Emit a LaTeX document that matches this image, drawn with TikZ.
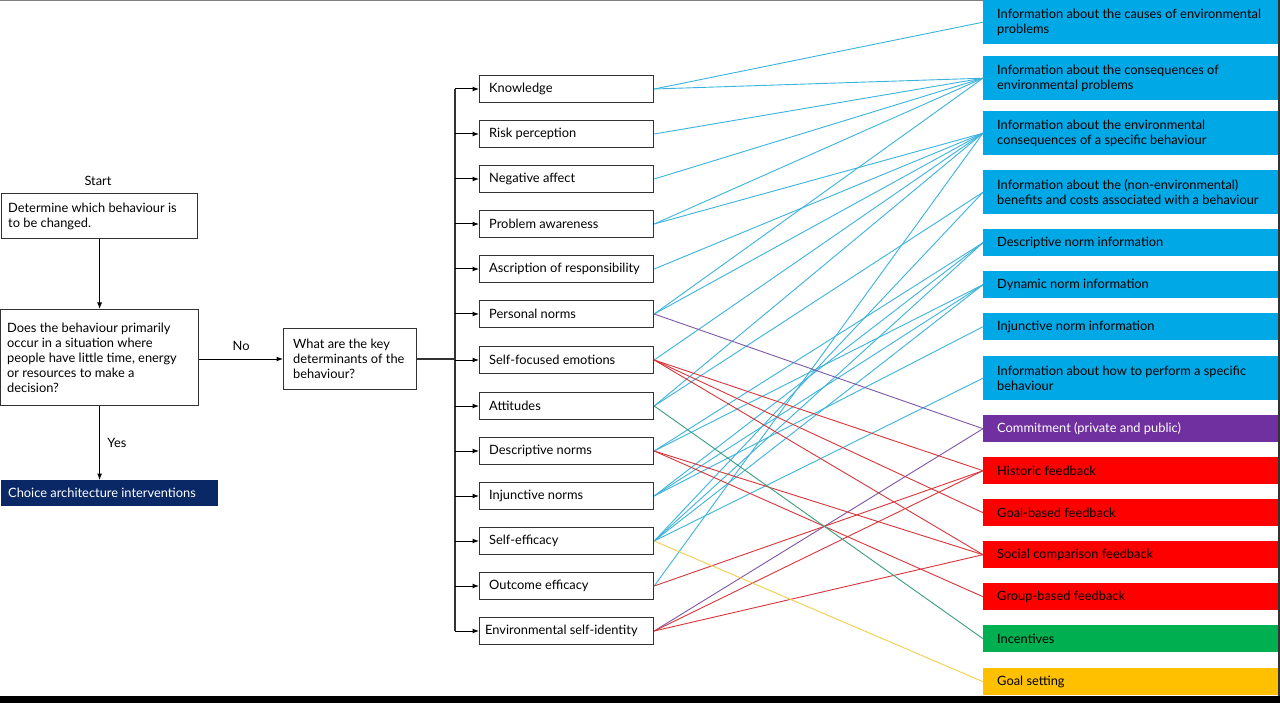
\documentclass[tikz,border=0pt]{standalone}
\usepackage{fontspec}
\setmainfont{Lato}
\usetikzlibrary{arrows.meta}
\definecolor{infoblue}{HTML}{00A8E6}
\definecolor{compurple}{HTML}{7030A0}
\definecolor{fbred}{HTML}{FF0000}
\definecolor{incgreen}{HTML}{00B050}
\definecolor{goalyellow}{HTML}{FFC000}
\definecolor{navybox}{HTML}{0A2866}
\definecolor{boxgray}{HTML}{333333}
\definecolor{lblue}{HTML}{3BB3DC}
\definecolor{lred}{HTML}{D8343A}
\definecolor{lpurple}{HTML}{7E57A8}
\definecolor{lgreen}{HTML}{3A9E7A}
\definecolor{lyellow}{HTML}{F2CF4A}
\begin{document}
\begin{tikzpicture}[x=1pt,y=-1pt,
  font=\fontsize{12.85}{15}\selectfont,
  flowbox/.style={draw=boxgray, line width=1.2pt, align=left, inner ysep=0pt},
  mid/.style={draw=boxgray, line width=1.2pt, minimum width=174pt, inner sep=0pt,
    minimum height=27pt, anchor=west},
  rbox/.style={anchor=north west, minimum width=295pt, inner sep=0pt, minimum height=27pt},
  lbl/.style={anchor=west, align=left, inner sep=0pt},
  arr/.style={draw=black, line width=1pt, -{Latex[length=6.5pt,width=5pt]}},
  cb/.style={draw=lblue, line width=0.9pt},
  cr/.style={draw=lred, line width=0.9pt},
  cp/.style={draw=lpurple, line width=0.9pt},
  cg/.style={draw=lgreen, line width=0.9pt},
  cy/.style={draw=lyellow, line width=0.9pt}]
\useasboundingbox (0,0) rectangle (1280,703);
\fill[white] (0,0) rectangle (1280,703);
% frame
\draw[gray, line width=1pt] (0,0.5) -- (983,0.5);
\fill[black] (0,696) rectangle (1280,703);
\draw[boxgray, line width=1.5pt] (1279.2,0) -- (1279.2,696);

% left flowchart
\node (start) at (98,181) {Start};
\node[flowbox, anchor=north west, minimum width=196pt, minimum height=45pt] (b1) at (1,193) {};
\node[lbl] at ([xshift=7pt]b1.west) {Determine which behaviour is\\to be changed.};
\node[flowbox, anchor=north west, minimum width=198pt, minimum height=96pt] (b2) at (0,309) {};
\node[lbl] at ([xshift=7pt]b2.west) {Does the behaviour primarily\\occur in a situation where\\people have little time, energy\\or resources to make a\\decision?};
\node[flowbox, anchor=west, minimum width=133pt, minimum height=61pt] (b3) at (283,359) {};
\node[lbl] at ([xshift=10pt]b3.west) {What are the key\\determinants of the\\behaviour?};
\node[fill=navybox, anchor=north west, minimum width=217pt, inner sep=0pt,
  minimum height=26pt] (cai) at (1,480) {};
\node[lbl, text=white] at ([xshift=7pt]cai.west) {Choice architecture interventions};
\draw[arr] (b1.south) -- (b1.south |- b2.north);
\draw[arr] (b2.east |- b3.west) -- node[above=5pt] {No} (b3.west);
\draw[arr] (b2.south) -- node[right=4pt] {Yes} (b2.south |- cai.north);

% middle column
\node[mid] (kn) at (479,89) {};
\node[mid] (rp) at (479,134) {};
\node[mid] (na) at (479,179) {};
\node[mid] (pa) at (479,224) {};
\node[mid] (ar) at (479,269) {};
\node[mid] (pn) at (479,314) {};
\node[mid] (sfe) at (479,360) {};
\node[mid] (att) at (479,406) {};
\node[mid] (dn) at (479,451) {};
\node[mid] (inj) at (479,496) {};
\node[mid] (se) at (479,541) {};
\node[mid] (oe) at (479,586) {};
\node[mid] (esi) at (479,631) {};
\node[lbl] at ([xshift=10pt]kn.west) {Knowledge};
\node[lbl] at ([xshift=10pt]rp.west) {Risk perception};
\node[lbl] at ([xshift=10pt]na.west) {Negative affect};
\node[lbl] at ([xshift=10pt]pa.west) {Problem awareness};
\node[lbl] at ([xshift=10pt]ar.west) {Ascription of responsibility};
\node[lbl] at ([xshift=10pt]pn.west) {Personal norms};
\node[lbl] at ([xshift=10pt]sfe.west) {Self-focused emotions};
\node[lbl] at ([xshift=10pt]att.west) {Attitudes};
\node[lbl] at ([xshift=10pt]dn.west) {Descriptive norms};
\node[lbl] at ([xshift=10pt]inj.west) {Injunctive norms};
\node[lbl] at ([xshift=10pt]se.west) {Self-efficacy};
\node[lbl] at ([xshift=10pt]oe.west) {Outcome efficacy};
\node[lbl] at ([xshift=6pt]esi.west) {Environmental self-identity};

\coordinate (tr) at (455,359);
\draw[boxgray, line width=1.2pt] (b3.east) -- (tr);
\draw[boxgray, line width=1.2pt] (455,89) -- (455,631);
\foreach \n in {kn,rp,na,pa,ar,pn,sfe,att,dn,inj,se,oe,esi}
  \draw[arr] (455,0 |- \n.west) -- (\n.west);

% right column
\node[rbox, fill=infoblue, minimum height=44pt] (r1) at (983,0) {};
\node[rbox, fill=infoblue, minimum height=44pt] (r2) at (983,56) {};
\node[rbox, fill=infoblue, minimum height=44pt] (r3) at (983,111) {};
\node[rbox, fill=infoblue, minimum height=44pt] (r4) at (983,170) {};
\node[rbox, fill=infoblue] (r5) at (983,229) {};
\node[rbox, fill=infoblue] (r6) at (983,271) {};
\node[rbox, fill=infoblue] (r7) at (983,313) {};
\node[rbox, fill=infoblue, minimum height=44pt] (r8) at (983,356) {};
\node[rbox, fill=compurple] (r9) at (983,415) {};
\node[rbox, fill=fbred] (r10) at (983,457) {};
\node[rbox, fill=fbred] (r11) at (983,499) {};
\node[rbox, fill=fbred] (r12) at (983,541) {};
\node[rbox, fill=fbred] (r13) at (983,583) {};
\node[rbox, fill=incgreen] (r14) at (983,625) {};
\node[rbox, fill=goalyellow] (r15) at (983,668) {};
\node[lbl] at ([xshift=14pt]r1.west) {Information about the causes of environmental\\problems};
\node[lbl] at ([xshift=14pt]r2.west) {Information about the consequences of\\environmental problems};
\node[lbl] at ([xshift=14pt]r3.west) {Information about the environmental\\consequences of a specific behaviour};
\node[lbl] at ([xshift=14pt]r4.west) {Information about the (non-environmental)\\benefits and costs associated with a behaviour};
\node[lbl] at ([xshift=14pt]r5.west) {Descriptive norm information};
\node[lbl] at ([xshift=14pt]r6.west) {Dynamic norm information};
\node[lbl] at ([xshift=14pt]r7.west) {Injunctive norm information};
\node[lbl] at ([xshift=14pt]r8.west) {Information about how to perform a specific\\behaviour};
\node[lbl, text=white] at ([xshift=14pt]r9.west) {Commitment (private and public)};
\node[lbl] at ([xshift=14pt]r10.west) {Historic feedback};
\node[lbl] at ([xshift=14pt]r11.west) {Goal-based feedback};
\node[lbl] at ([xshift=14pt]r12.west) {Social comparison feedback};
\node[lbl] at ([xshift=14pt]r13.west) {Group-based feedback};
\node[lbl] at ([xshift=14pt]r14.west) {Incentives};
\node[lbl] at ([xshift=14pt]r15.west) {Goal setting};

% connectors
\draw[cb] (kn.east) -- (r1.west);
\draw[cb] (kn.east) -- (r2.west);
\draw[cb] (rp.east) -- (r2.west);
\draw[cb] (na.east) -- (r2.west);
\draw[cb] (pa.east) -- (r2.west);
\draw[cb] (pa.east) -- (r3.west);
\draw[cb] (ar.east) -- (r3.west);
\draw[cb] (pn.east) -- (r2.west);
\draw[cb] (pn.east) -- (r3.west);
\draw[cb] (sfe.east) -- (r3.west);
\draw[cb] (att.east) -- (r3.west);
\draw[cb] (att.east) -- (r4.west);
\draw[cb] (dn.east) -- (r5.west);
\draw[cb] (dn.east) -- (r6.west);
\draw[cb] (inj.east) -- (r5.west);
\draw[cb] (inj.east) -- (r6.west);
\draw[cb] (inj.east) -- (r7.west);
\draw[cb] (se.east) -- (r4.west);
\draw[cb] (se.east) -- (r5.west);
\draw[cb] (se.east) -- (r6.west);
\draw[cb] (se.east) -- (r8.west);
\draw[cb] (oe.east) -- (r3.west);
\draw[cp] (pn.east) -- (r9.west);
\draw[cp] (esi.east) -- (r9.west);
\draw[cr] (sfe.east) -- (r10.west);
\draw[cr] (sfe.east) -- (r11.west);
\draw[cr] (sfe.east) -- (r12.west);
\draw[cr] (dn.east) -- (r12.west);
\draw[cr] (dn.east) -- (r13.west);
\draw[cr] (oe.east) -- (r10.west);
\draw[cr] (esi.east) -- (r10.west);
\draw[cr] (esi.east) -- (r12.west);
\draw[cg] (att.east) -- (r14.west);
\draw[cy] (se.east) -- (r15.west);
\end{tikzpicture}
\end{document}
